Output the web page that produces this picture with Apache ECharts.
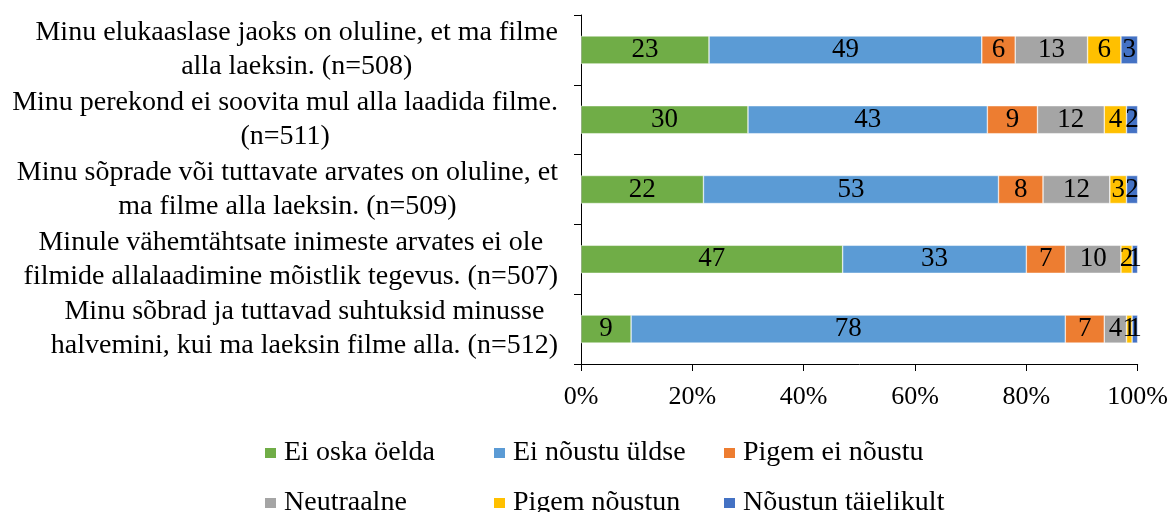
<!DOCTYPE html>
<html>
<head>
    <meta charset="utf-8">
    <script src="https://cdn.jsdelivr.net/npm/echarts@6/dist/echarts.min.js"></script>
    <style>
        html, body { margin: 0; padding: 0; background: #fff; }
    </style>
</head>
<body>
    <div id="main" style="width:1171px;height:512px;"></div>
    <script>
        // väited (ülalt alla)
        var categories = [
            'Minu elukaaslase jaoks on oluline, et ma filme\nalla laeksin. (n=508)',
            'Minu perekond ei soovita mul alla laadida filme.\n(n=511)',
            'Minu sõprade või tuttavate arvates on oluline, et\nma filme alla laeksin. (n=509)',
            'Minule vähemtähtsate inimeste arvates ei ole\nfilmide allalaadimine mõistlik tegevus. (n=507)',
            'Minu sõbrad ja tuttavad suhtuksid minusse\nhalvemini, kui ma laeksin filme alla. (n=512)'
        ];
        var eiOska = [23, 30, 22, 47, 9];
        var eiNoustuYldse = [49, 43, 53, 33, 78];
        var pigemEiNoustu = [6, 9, 8, 7, 7];
        var neutraalne = [13, 12, 12, 10, 4];
        var pigemNoustun = [6, 4, 3, 2, 1];
        var noustunTaielikult = [3, 2, 2, 1, 1];
        var xTicks = [0, 20, 40, 60, 80, 100];

        var seriesNames = ['Ei oska öelda', 'Ei nõustu üldse', 'Pigem ei nõustu', 'Neutraalne', 'Pigem nõustun', 'Nõustun täielikult'];
        var seriesData = [eiOska, eiNoustuYldse, pigemEiNoustu, neutraalne, pigemNoustun, noustunTaielikult];
        var colors = ['#70AD47', '#5B9BD5', '#ED7D31', '#A5A5A5', '#FFC000', '#4472C4'];

        var font = 'Liberation Serif';
        var myChart = echarts.init(document.getElementById('main'));

        // legend: 3 columns x 2 rows, one legend per item
        var legendLefts = [263, 492, 722];
        var legendTops = [438, 488];
        var legends = seriesNames.map(function (name, i) {
            return {
                data: [name],
                left: legendLefts[i % 3],
                top: legendTops[Math.floor(i / 3)],
                padding: 0,
                icon: 'rect', itemWidth: 13, itemHeight: 12,
                textStyle: { fontFamily: font, fontSize: 28, lineHeight: 30, color: '#000', padding: [0, 0, 0, 2] }
            };
        });

        var option = {
            animation: false,
            color: colors,
            grid: { left: 581, right: 32, top: 15, bottom: 148 },
            legend: legends,
            xAxis: {
                type: 'value',
                min: xTicks[0],
                max: xTicks[xTicks.length - 1],
                interval: 20,
                axisLine: { show: true, lineStyle: { color: '#000', width: 1 } },
                axisTick: { show: true, length: 7, lineStyle: { color: '#000' } },
                splitLine: { show: false },
                axisLabel: {
                    margin: 20,
                    fontFamily: font, fontSize: 26, color: '#000',
                    formatter: '{value}%'
                }
            },
            yAxis: {
                type: 'category',
                inverse: true,
                data: categories,
                axisLine: { show: true, lineStyle: { color: '#000', width: 1 } },
                axisTick: { show: true, length: 7, lineStyle: { color: '#000' } },
                axisLabel: {
                    margin: 23,
                    align: 'right',
                    lineHeight: 34,
                    fontFamily: font, fontSize: 28, color: '#000',
                    formatter: function (v) {
                        return v.split('\n').map(function (l) { return '{c|' + l + '}'; }).join('\n');
                    },
                    rich: {
                        c: { align: 'center', fontFamily: font, fontSize: 28, lineHeight: 34, color: '#000' }
                    }
                }
            },
            series: seriesNames.map(function (name, i) {
                return {
                    name: name,
                    type: 'bar',
                    stack: 'total',
                    barWidth: 28,
                    data: seriesData[i],
                    itemStyle: { borderColor: '#fff', borderWidth: 0.5 },
                    label: {
                        show: true,
                        position: 'inside',
                        fontFamily: font, fontSize: 27, color: '#000'
                    }
                };
            })
        };

        myChart.setOption(option);
    </script>
</body>
</html>
